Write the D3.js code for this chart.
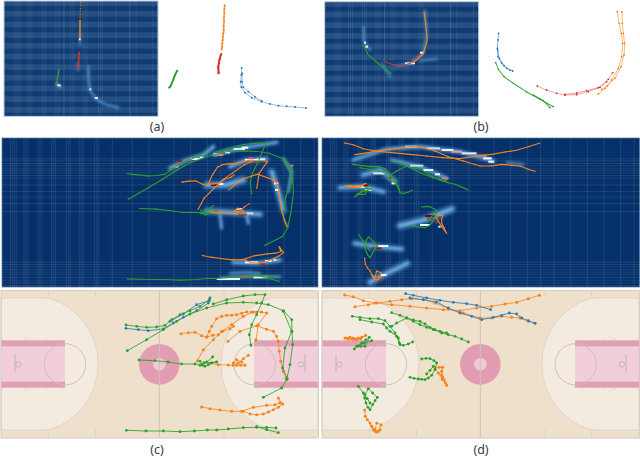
<!DOCTYPE html>
<html>
<head>
<meta charset="utf-8">
<script src="https://cdn.jsdelivr.net/npm/d3@7"></script>
<style>
  html, body { margin: 0; padding: 0; background: #fff; }
  svg { display: block; }
  text { font-family: "Noto Sans", sans-serif; font-size: 12.5px; fill: #3a3a3a; }
</style>
</head>
<body>
<div id="chart"></div>
<script>

// (a) tracks
const aOrange = [[[674,16],[673,28],[673,40],[672,52],[672,65],[671,78],[671,90],[670,100],[669,110],[668,120],[667,130],[666,140],[665,148]]];
const aRed = [[[664,162],[660,175],[657,190],[655,205],[655,220]], [[662,165],[658,180],[654,200],[657,218]]];
const aGreen = [[[532,212],[525,225],[520,240],[513,255],[507,263]], [[530,214],[522,232],[516,248],[510,262]]];
const aBlue = [[[725,204],[724,225],[722,245],[724,262],[735,278],[755,293],[785,305],[810,312],[835,317],[860,319],[885,321],[918,324]],
  [[727,220],[726,245],[730,262],[745,275],[765,290],[785,303]]];
// (a) heatmap overlay
const aHeatOrange = [[[240,60],[240,85],[240,115]]];
const aHeatRed = [[[238,155],[236,180],[234,210]]];
const aHeatGreen = [[[178,205],[172,235],[168,258]]];

// (b) tracks
const bOrange = [[[892,35],[897,70],[904,100],[908,130],[905,170],[895,205],[875,240],[855,265],[835,282]],
  [[906,36],[907,70],[910,100],[914,130],[912,165],[903,200],[885,235],[862,258],[845,268]]];
const bRed = [[[652,258],[680,270],[710,280],[735,285],[770,284],[805,275],[840,262],[865,238],[878,218]],
  [[735,283],[770,279],[800,272],[835,263],[860,245]]];
const bBlue = [[[536,100],[534,120],[532,145],[534,170],[545,190],[560,205],[578,213]], [[533,150],[538,175],[552,197],[570,211]]];
const bGreen = [[[527,188],[535,208],[552,230],[580,250],[620,276],[660,298],[700,320]], [[640,285],[670,302],[690,323]]];
// (b) heatmap overlay
const bHeatOrange = [[[312,35],[318,80],[322,120],[310,160],[290,180],[265,193]]];
const bHeatRed = [[[190,182],[215,193],[245,198],[270,190],[300,165]]];
const bHeatGreen = [[[130,135],[145,165],[180,195],[215,222]]];

// (c) tracks
const cGreen = [
  [[378,111],[410,115],[440,118],[470,117],[495,112],[515,95],[540,80],[570,68],[600,55],[628,35]],
  [[382,188],[440,155],[490,125],[530,100],[570,78],[620,60],[680,45],[730,43],[770,45],[805,50],[850,68],[875,95],[876,130],[878,170],[870,230],[860,275],[845,300],[790,328]],
  [[640,48],[680,35],[730,24],[765,20],[795,20],[785,45],[770,80],[755,110],[748,140],[753,172]],
  [[417,216],[465,218],[505,222],[545,228],[585,228],[605,230],[620,222],[638,207]],
  [[600,220],[608,232],[615,235],[625,230],[635,225],[650,222],[612,225],[600,232]],
  [[379,427],[438,429],[490,429],[540,431],[583,429],[622,426],[650,426],[685,423],[730,419],[770,418],[800,418],[828,420]],
  [[770,416],[800,425],[835,434]],
  [[850,70],[875,130],[855,180],[848,240],[862,272]]
];
const cBlue = [
  [[378,121],[415,125],[445,128],[490,123],[520,105],[550,88],[590,68],[625,45],[630,30]],
  [[510,100],[550,78],[590,50],[628,38]]
];
const cOrange = [
  [[543,137],[565,134],[585,133],[605,143],[620,147],[638,142],[655,140],[668,130],[690,122],[700,115]],
  [[620,147],[628,130],[635,115],[650,92],[665,85],[680,82],[695,82],[710,80],[725,76],[740,72],[755,72],[770,72],[785,72],[800,75],[775,110],[768,155]],
  [[592,218],[610,185],[640,155],[665,130],[695,110],[730,85],[760,72]],
  [[684,160],[720,130],[770,113],[800,124],[820,130],[830,145],[835,160],[838,190],[842,220],[850,250],[858,270]],
  [[605,357],[630,362],[660,366],[695,370],[725,370],[760,358],[800,352],[825,350],[840,345],[835,330],[848,348],[835,358],[820,365],[805,372],[790,378],[770,380],[750,378],[730,370]],
  [[630,226],[655,230],[685,231],[700,232],[710,232],[722,232],[735,232],[725,222],[710,215],[700,225],[715,225],[730,212],[745,202]]
];

// (d) tracks
const dOrange = [
  [[74,21],[100,26],[130,38],[165,45],[215,50],[270,55],[320,60],[370,65],[420,68],[470,60],[515,55],[555,48],[590,43],[625,32],[658,22]],
  [[105,56],[145,50],[170,45],[210,40],[245,35],[275,32],[310,35],[345,45],[385,62],[430,75],[480,90],[515,90],[545,85],[575,88],[600,90],[625,100],[645,106]],
  [[75,150],[82,150],[90,148],[98,150],[105,152],[115,150],[125,148],[137,142],[122,152],[110,155],[97,154],[85,152]],
  [[345,240],[358,238],[368,238],[365,250],[365,260],[368,268],[372,275],[376,284],[380,292],[367,274],[355,255],[345,240]],
  [[134,366],[136,385],[142,395],[150,405],[155,415],[160,425],[165,430],[170,432],[175,430],[180,425],[183,410],[170,405],[165,425],[155,415]]
];
const dBlue = [
  [[257,17],[280,22],[320,30],[360,37],[400,43],[440,47],[470,52],[512,65]],
  [[270,30],[310,35],[350,42],[385,60],[420,75],[455,85],[485,95],[520,88],[545,82],[568,75],[590,78],[605,90],[625,98],[645,106]]
];
const dGreen = [
  [[97,85],[120,88],[150,92],[175,92],[195,98],[210,115],[225,135],[235,150],[240,170],[250,172],[265,168],[278,162]],
  [[120,95],[155,102],[190,108],[200,120],[210,130],[230,145],[238,165]],
  [[215,74],[240,82],[260,90],[280,96],[300,100],[315,108],[330,118],[345,125],[365,135],[385,140],[405,145],[425,153],[445,162]],
  [[215,115],[230,105],[260,90],[280,100],[300,110],[320,118],[340,125],[360,130],[380,135]],
  [[305,213],[318,211],[330,212],[342,218],[350,225],[345,245],[335,262],[325,270],[315,275],[305,274],[295,273],[282,271],[270,268]],
  [[340,235],[330,247],[320,258]],
  [[103,183],[115,174],[125,165],[137,156],[148,148],[135,175],[122,175],[110,175],[132,166],[155,158]],
  [[115,295],[130,315],[134,330],[138,345],[144,358],[150,365],[158,350],[165,338],[172,328],[158,315],[145,302],[135,320],[142,332],[150,345]]
];

// heat cell runs: x from, x to, y, level
const aHot = [[237,242,118,.55],[172,182,256,.6],[268,274,268,.45],[284,294,294,.6]];
const bHot = [[132,138,128,.5],[136,144,140,.5],[255,285,190,.45],[300,312,158,.5]];
const cHot = [
  [520,535,95,.7],[530,545,78,.95],[555,570,75,.8],[570,600,72,.5],[600,610,68,.5],
  [640,660,58,.5],[650,670,60,.75],[675,690,52,.5],[700,735,42,.45],[725,745,38,.55],
  [735,775,75,.55],[745,760,70,.8],[770,795,73,.5],[632,655,150,1],[655,670,147,.5],
  [815,830,135,.8],[822,835,145,.5],[825,835,165,.5],[870,880,92,.75],
  [635,660,228,.8],[715,740,238,1],[710,725,222,.5],[740,760,235,.42],
  [735,775,382,.55],[780,795,387,.9],[795,815,378,.5],[820,830,375,.4],
  [650,720,432,.5],[720,750,425,.8],[760,800,427,.5]
];
const dHot = [
  [255,290,35,.42],[320,360,40,.42],[365,400,45,.5],[395,425,50,.7],[425,470,55,.48],[475,500,62,.75],[490,515,70,.55],[505,522,80,.55],
  [270,310,92,.42],[310,340,105,.5],[345,360,118,.55],[365,385,130,.75],
  [160,195,115,.48],[205,215,128,.9],[215,225,145,.55],
  [105,150,155,.5],[130,150,152,1],[135,155,165,.4],
  [315,345,243,1],[320,340,250,.9],[300,330,270,.55],[345,358,262,.9],[355,362,275,.5],
  [155,185,340,.95],[175,205,333,.5],[180,200,420,.5],[165,190,433,.9]
];

// soft blue glow under the hot cells: width, then the path
const aGlow = [[6,[[234,190],[234,212]]],[9,[[170,250],[182,262]]],[7,[[265,198],[266,240],[270,272],[292,300],[320,315],[355,322]]],[5,[[241,100],[239,135]]]];
const bGlow = [[7,[[131,80],[132,125],[150,150]]],[6,[[300,183],[350,177]]],[6,[[185,190],[210,232]]],[6,[[315,30],[320,100],[310,160],[270,190],[230,198]]]];
const cGlow = [
  [16,[[510,100],[560,75],[610,60],[640,35]]],[14,[[640,60],[720,40],[830,22]]],[26,[[620,150],[680,150],[730,135]]],
  [16,[[690,95],[740,75],[800,72]]],[22,[[815,110],[835,170],[850,225]]],[10,[[850,70],[875,110],[865,170]]],
  [22,[[620,228],[690,232],[780,238]]],[16,[[700,382],[770,385],[840,375]]],[9,[[660,430],[740,425],[840,425]]],
  [8,[[690,415],[740,412],[780,415]]],[12,[[740,240],[745,265]]],[12,[[660,240],[665,280]]]
];
const dGlow = [
  [15,[[100,75],[200,42],[300,35],[420,50],[520,78]]],[14,[[215,75],[300,95],[380,130]]],[20,[[130,120],[180,105],[225,140]]],
  [20,[[60,158],[130,155],[190,170]]],[26,[[240,272],[310,255],[395,222]]],[20,[[105,325],[170,335],[245,342]]],
  [22,[[150,442],[200,415],[262,385]]],[7,[[560,82],[610,88]]]
];

// stripes of the empty heatmap, same units
const wideRows = [20,52,84,116,148,180,212,244,276,308,340];
const wideCols = [190,388];
const fineCols = [29,35,41,47,70,76,82,112,118,124,152,158,164,197,203,209,236,242,248,282,288,294,335,395,445,520,570,620,660,700,750,800,850,900,940];
const fineRows = [70,76,84,90,98,105,112,120,128,148,168,185,204,228,380,387,394,402,410,418,426,434,442,450];

// scales
const toPx = d3.scaleLinear().domain([0, 960]).range([0, 320]);
const level = d3.scaleLinear()
  .domain([0, .35, .55, .8, 1])
  .range(["#3f7fbb", "#a6cce4", "#ffffff", "#d6604d", "#6b0a1e"]);
const line = d3.line().x(d => toPx(d[0])).y(d => toPx(d[1]));

const colors = { orange: "#f5841f", green: "#2ca02c", blue: "#2b7bba", red: "#d62f2f" };

const svg = d3.select("#chart").append("svg").attr("width", 640).attr("height", 458);
const defs = svg.append("defs");
defs.append("filter").attr("id", "glow").attr("x", "-30%").attr("y", "-30%").attr("width", "160%").attr("height", "160%")
  .append("feGaussianBlur").attr("stdDeviation", 1.8);
defs.append("filter").attr("id", "core").attr("x", "-30%").attr("y", "-30%").attr("width", "160%").attr("height", "160%")
  .append("feGaussianBlur").attr("stdDeviation", 0.9);

function panel(x, y) {
  return svg.append("g").attr("transform", `translate(${x},${y})`);
}

// draws tracks of one colour, thin line + dots
function tracks(g, data, color, lw, r, lineAlpha) {
  g.append("g").selectAll("path").data(data).join("path")
    .attr("d", line).attr("fill", "none")
    .attr("stroke", color).attr("stroke-width", lw).attr("stroke-opacity", lineAlpha);
  if (r > 0) {
    g.append("g").selectAll("circle").data(data.flat()).join("circle")
      .attr("cx", d => toPx(d[0])).attr("cy", d => toPx(d[1])).attr("r", r).attr("fill", color);
  }
}

function heat(g, box, glow, hot, flat) {
  const [x0, y0, x1, y1] = box;
  const w = toPx(x1 - x0), h = toPx(y1 - y0);
  const id = "clip" + x0 + y0 + (flat ? "f" : "s") + hot.length;
  defs.append("clipPath").attr("id", id).append("rect").attr("x", toPx(x0)).attr("y", toPx(y0)).attr("width", w).attr("height", h);
  const inner = g.append("g").attr("clip-path", `url(#${id})`);

  inner.append("rect").attr("x", toPx(x0)).attr("y", toPx(y0)).attr("width", w).attr("height", h)
    .attr("fill", flat ? "#05306a" : "#254f83");

  if (flat) {
    inner.selectAll(".fc").data(fineCols).join("rect").attr("class", "fc")
      .attr("x", d => toPx(d)).attr("y", toPx(y0)).attr("width", 1.3).attr("height", h)
      .attr("fill", "#fff").attr("opacity", .08);
    inner.selectAll(".fr").data(fineRows).join("rect").attr("class", "fr")
      .attr("x", toPx(x0)).attr("y", d => toPx(d)).attr("width", w).attr("height", 1)
      .attr("fill", "#fff").attr("opacity", .09);
  } else {
    inner.selectAll(".wr").data(wideRows).join("rect").attr("class", "wr")
      .attr("x", toPx(x0)).attr("y", d => toPx(d + y0 - 5)).attr("width", w).attr("height", 5)
      .attr("fill", "#0f3b72");
    inner.selectAll(".wc").data(wideCols).join("rect").attr("class", "wc")
      .attr("x", d => toPx(d + x0 - 12)).attr("y", toPx(y0)).attr("width", 1.2).attr("height", h)
      .attr("fill", "#fff").attr("opacity", .12);
    inner.selectAll(".fc").data(fineCols).join("rect").attr("class", "fc")
      .attr("x", d => toPx(d + x0)).attr("y", toPx(y0)).attr("width", 1).attr("height", h)
      .attr("fill", "#fff").attr("opacity", .07);
  }

  inner.append("g").attr("filter", "url(#glow)").selectAll("path").data(glow).join("path")
    .attr("d", d => line(d[1])).attr("fill", "none").attr("stroke", "#3f82c2")
    .attr("stroke-width", d => toPx(d[0])).attr("stroke-linecap", "round").attr("opacity", .8);
  inner.append("g").attr("filter", "url(#core)").selectAll("path").data(glow).join("path")
    .attr("d", d => line(d[1])).attr("fill", "none").attr("stroke", "#8fc0e4")
    .attr("stroke-width", d => toPx(d[0]) * .35).attr("stroke-linecap", "round").attr("opacity", .75);

  inner.selectAll(".hot").data(hot).join("rect").attr("class", "hot")
    .attr("x", d => toPx(d[0])).attr("y", d => toPx(d[2]) - 1).attr("width", d => toPx(d[1] - d[0])).attr("height", 2)
    .attr("fill", d => level(d[3]));

  g.append("rect").attr("x", toPx(x0)).attr("y", toPx(y0)).attr("width", w).attr("height", h)
    .attr("fill", "none").attr("stroke", "#b9cadb").attr("stroke-width", 1);
  return inner;
}

// court lines and paint, inside one 3x panel
const courtEdges = [3, 955, 8, 450];
const keyTicks = [75, 85, 112, 137];
const sideCuts = [145, 287, 672, 812];
function court(g) {
  const [l, r, t, b] = courtEdges;
  const midX = (l + r) / 2 - 1, midY = (t + b) / 2;
  const grey = "#c9c3b8";
  g.append("rect").attr("x", toPx(l)).attr("y", toPx(t)).attr("width", toPx(r - l)).attr("height", toPx(b - t)).attr("fill", "#efe0cc");

  const arcR = toPx(206);
  g.append("path").attr("fill", "#f3ebe0").attr("stroke", "#d8d0c4").attr("stroke-width", .8)
    .attr("d", `M${toPx(l)},${toPx(30)}H${toPx(145)}A${arcR},${arcR} 0 0 1 ${toPx(145)},${toPx(426)}H${toPx(l)}Z`);
  g.append("path").attr("fill", "#f3ebe0").attr("stroke", "#d8d0c4").attr("stroke-width", .8)
    .attr("d", `M${toPx(r)},${toPx(30)}H${toPx(812)}A${arcR},${arcR} 0 0 0 ${toPx(812)},${toPx(426)}H${toPx(r)}Z`);

  [[l, 195], [762, r]].forEach(k => {
    g.append("rect").attr("x", toPx(k[0])).attr("y", toPx(157)).attr("width", toPx(k[1] - k[0])).attr("height", toPx(142)).attr("fill", "#dfa0b4");
    g.append("rect").attr("x", toPx(k[0])).attr("y", toPx(175)).attr("width", toPx(k[1] - k[0])).attr("height", toPx(106)).attr("fill", "#f2cedb");
  });

  [195, 764].forEach(cx => {
    g.append("circle").attr("cx", toPx(cx)).attr("cy", toPx(midY)).attr("r", toPx(62))
      .attr("fill", "none").attr("stroke", grey).attr("stroke-width", 1);
  });

  g.append("circle").attr("cx", toPx(midX)).attr("cy", toPx(midY)).attr("r", toPx(61)).attr("fill", "#e39db3");
  g.append("circle").attr("cx", toPx(midX)).attr("cy", toPx(midY)).attr("r", toPx(19)).attr("fill", "#efc9d3");
  g.append("line").attr("x1", toPx(midX)).attr("x2", toPx(midX)).attr("y1", toPx(t)).attr("y2", toPx(b))
    .attr("stroke", grey).attr("stroke-width", 1);

  sideCuts.forEach(x => {
    [[t, 30], [424, b]].forEach(s => {
      g.append("line").attr("x1", toPx(x)).attr("x2", toPx(x)).attr("y1", toPx(s[0])).attr("y2", toPx(s[1]))
        .attr("stroke", "#dcd4c6").attr("stroke-width", 1);
    });
  });

  // hoop + backboard
  [[45, 55], [915, 903]].forEach(h => {
    g.append("line").attr("x1", toPx(h[0])).attr("x2", toPx(h[0])).attr("y1", toPx(200)).attr("y2", toPx(252)).attr("stroke", "#b5afa6").attr("stroke-width", .8);
    g.append("circle").attr("cx", toPx(h[1])).attr("cy", toPx(midY)).attr("r", toPx(8)).attr("fill", "none").attr("stroke", "#b5afa6").attr("stroke-width", .8);
  });

  keyTicks.forEach(x => {
    [x, 955 + 3 - x].forEach(k => {
      g.append("line").attr("x1", toPx(k)).attr("x2", toPx(k)).attr("y1", toPx(150)).attr("y2", toPx(157)).attr("stroke", "#cfc7ba").attr("stroke-width", .6);
      g.append("line").attr("x1", toPx(k)).attr("x2", toPx(k)).attr("y1", toPx(299)).attr("y2", toPx(306)).attr("stroke", "#cfc7ba").attr("stroke-width", .6);
    });
  });

  g.append("rect").attr("x", toPx(l)).attr("y", toPx(t)).attr("width", toPx(r - l)).attr("height", toPx(b - t))
    .attr("fill", "none").attr("stroke", "#d2cabd").attr("stroke-width", 1);
}

// (a)
const pa = panel(0, 0);
const aHeat = heat(pa, [12, 3, 474, 349], aGlow, aHot, false);
aHeat.append("line").attr("x1", toPx(242)).attr("x2", toPx(240)).attr("y1", toPx(5)).attr("y2", toPx(60))
  .attr("stroke", "#d86a10").attr("stroke-dasharray", "1.5 1.5").attr("stroke-width", 1.2);
tracks(aHeat, aHeatOrange, colors.orange, 1.5, 0, 1);
tracks(aHeat, aHeatRed, colors.red, 1.6, 0, 1);
tracks(aHeat, aHeatGreen, colors.green, 1.3, 0, 1);
tracks(pa, aOrange, colors.orange, 1.6, 1, .8);
tracks(pa, aRed, colors.red, 1.6, 1, .9);
tracks(pa, aGreen, colors.green, 1.6, .9, .9);
tracks(pa, aBlue, colors.blue, .9, 1, .55);

// (b)
const pb = panel(320, 0);
const bHeat = heat(pb, [14, 5, 476, 349], bGlow, bHot, false);
tracks(bHeat, bHeatOrange, colors.orange, 1.2, 0, 1);
tracks(bHeat, bHeatRed, "#c8413a", 1, 0, 1);
tracks(bHeat, bHeatGreen, colors.green, 1.1, 0, 1);
tracks(pb, bOrange, colors.orange, .9, .95, .65);
tracks(pb, bRed, colors.red, .8, .9, .55);
tracks(pb, bBlue, colors.blue, .9, .95, .65);
tracks(pb, bGreen, colors.green, 1.1, .8, .85);

// (c)
const pcHeat = panel(0, 135);
const cHeat = heat(pcHeat, [5, 8, 955, 457], cGlow, cHot, true);
const cOver = cHeat.append("g").attr("transform", "translate(0.8,1.5)");
tracks(cOver, cGreen, colors.green, 1.1, .6, 1);
tracks(cOver, cOrange, colors.orange, 1.1, .7, 1);
const pcCourt = panel(0, 288);
court(pcCourt);
tracks(pcCourt, cOrange, colors.orange, 1, 1.5, .8);
tracks(pcCourt, cBlue, colors.blue, 1, 1.4, .85);
tracks(pcCourt, cGreen, colors.green, 1, 1.4, .85);

// (d)
const pdHeat = panel(320, 135);
const dHeat = heat(pdHeat, [5, 8, 960, 457], dGlow, dHot, true);
const dOver = dHeat.append("g").attr("transform", "translate(0,1)");
tracks(dOver, dOrange, colors.orange, 1.1, .7, 1);
tracks(dOver, dGreen, colors.green, 1.1, .6, 1);
const pdCourt = panel(321, 288);
court(pdCourt);
const pdTracks = panel(320, 288);
tracks(pdTracks, dOrange, colors.orange, 1, 1.5, .8);
tracks(pdTracks, dBlue, colors.blue, 1, 1.4, .85);
tracks(pdTracks, dGreen, colors.green, 1, 1.4, .85);

// panel letters
const labels = ["(a)", "(b)", "(c)", "(d)"];
const labelX = [157, 481, 157, 481];
const labelY = [131, 131, 454, 454];
svg.selectAll(".lab").data(labels).join("text").attr("class", "lab")
  .attr("x", (d, i) => labelX[i]).attr("y", (d, i) => labelY[i]).attr("text-anchor", "middle").text(d => d);
</script>
</body>
</html>
